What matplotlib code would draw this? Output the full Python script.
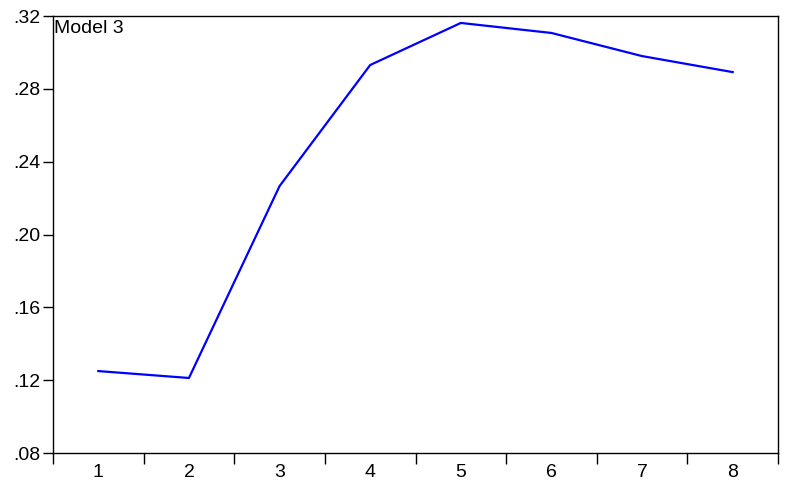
import matplotlib
matplotlib.use("Agg")
import matplotlib.pyplot as plt
from matplotlib.ticker import FixedLocator, FuncFormatter, NullFormatter

plt.rcParams['font.family'] = ['Liberation Sans', 'DejaVu Sans']

# data
periods = [1, 2, 3, 4, 5, 6, 7, 8]
values = [0.1250, 0.1212, 0.2266, 0.2931, 0.3162, 0.3107, 0.2980, 0.2892]
yticks = [0.08, 0.12, 0.16, 0.20, 0.24, 0.28, 0.32]

fig = plt.figure(figsize=(7.9, 5.01), dpi=100)
ax = fig.add_axes([0.0671, 0.0958, 0.9177, 0.8722])

ax.plot(periods, values, color='#0000ff', lw=1.6)

ax.set_xlim(0.5, 8.5)
ax.set_ylim(0.08, 0.32)

# category labels in the middle, tick marks at the boundaries
ax.xaxis.set_major_locator(FixedLocator(periods))
ax.xaxis.set_minor_locator(FixedLocator([p + 0.5 for p in range(0, 9)]))
ax.tick_params(axis='x', which='major', length=0, pad=8, labelsize=14)
ax.tick_params(axis='x', which='minor', length=8, width=1, direction='out')
ax.xaxis.set_minor_formatter(NullFormatter())

ax.set_yticks(yticks)
ax.yaxis.set_major_formatter(FuncFormatter(lambda v, p: ('%.2f' % v).lstrip('0')))
ax.tick_params(axis='y', length=7, width=1, direction='out', labelsize=14, pad=2)

for s in ax.spines.values():
    s.set_linewidth(1)

ax.text(0.001, 0.99, 'Model 3', transform=ax.transAxes, ha='left', va='top', fontsize=14)

fig.savefig('out.png', dpi=100)
